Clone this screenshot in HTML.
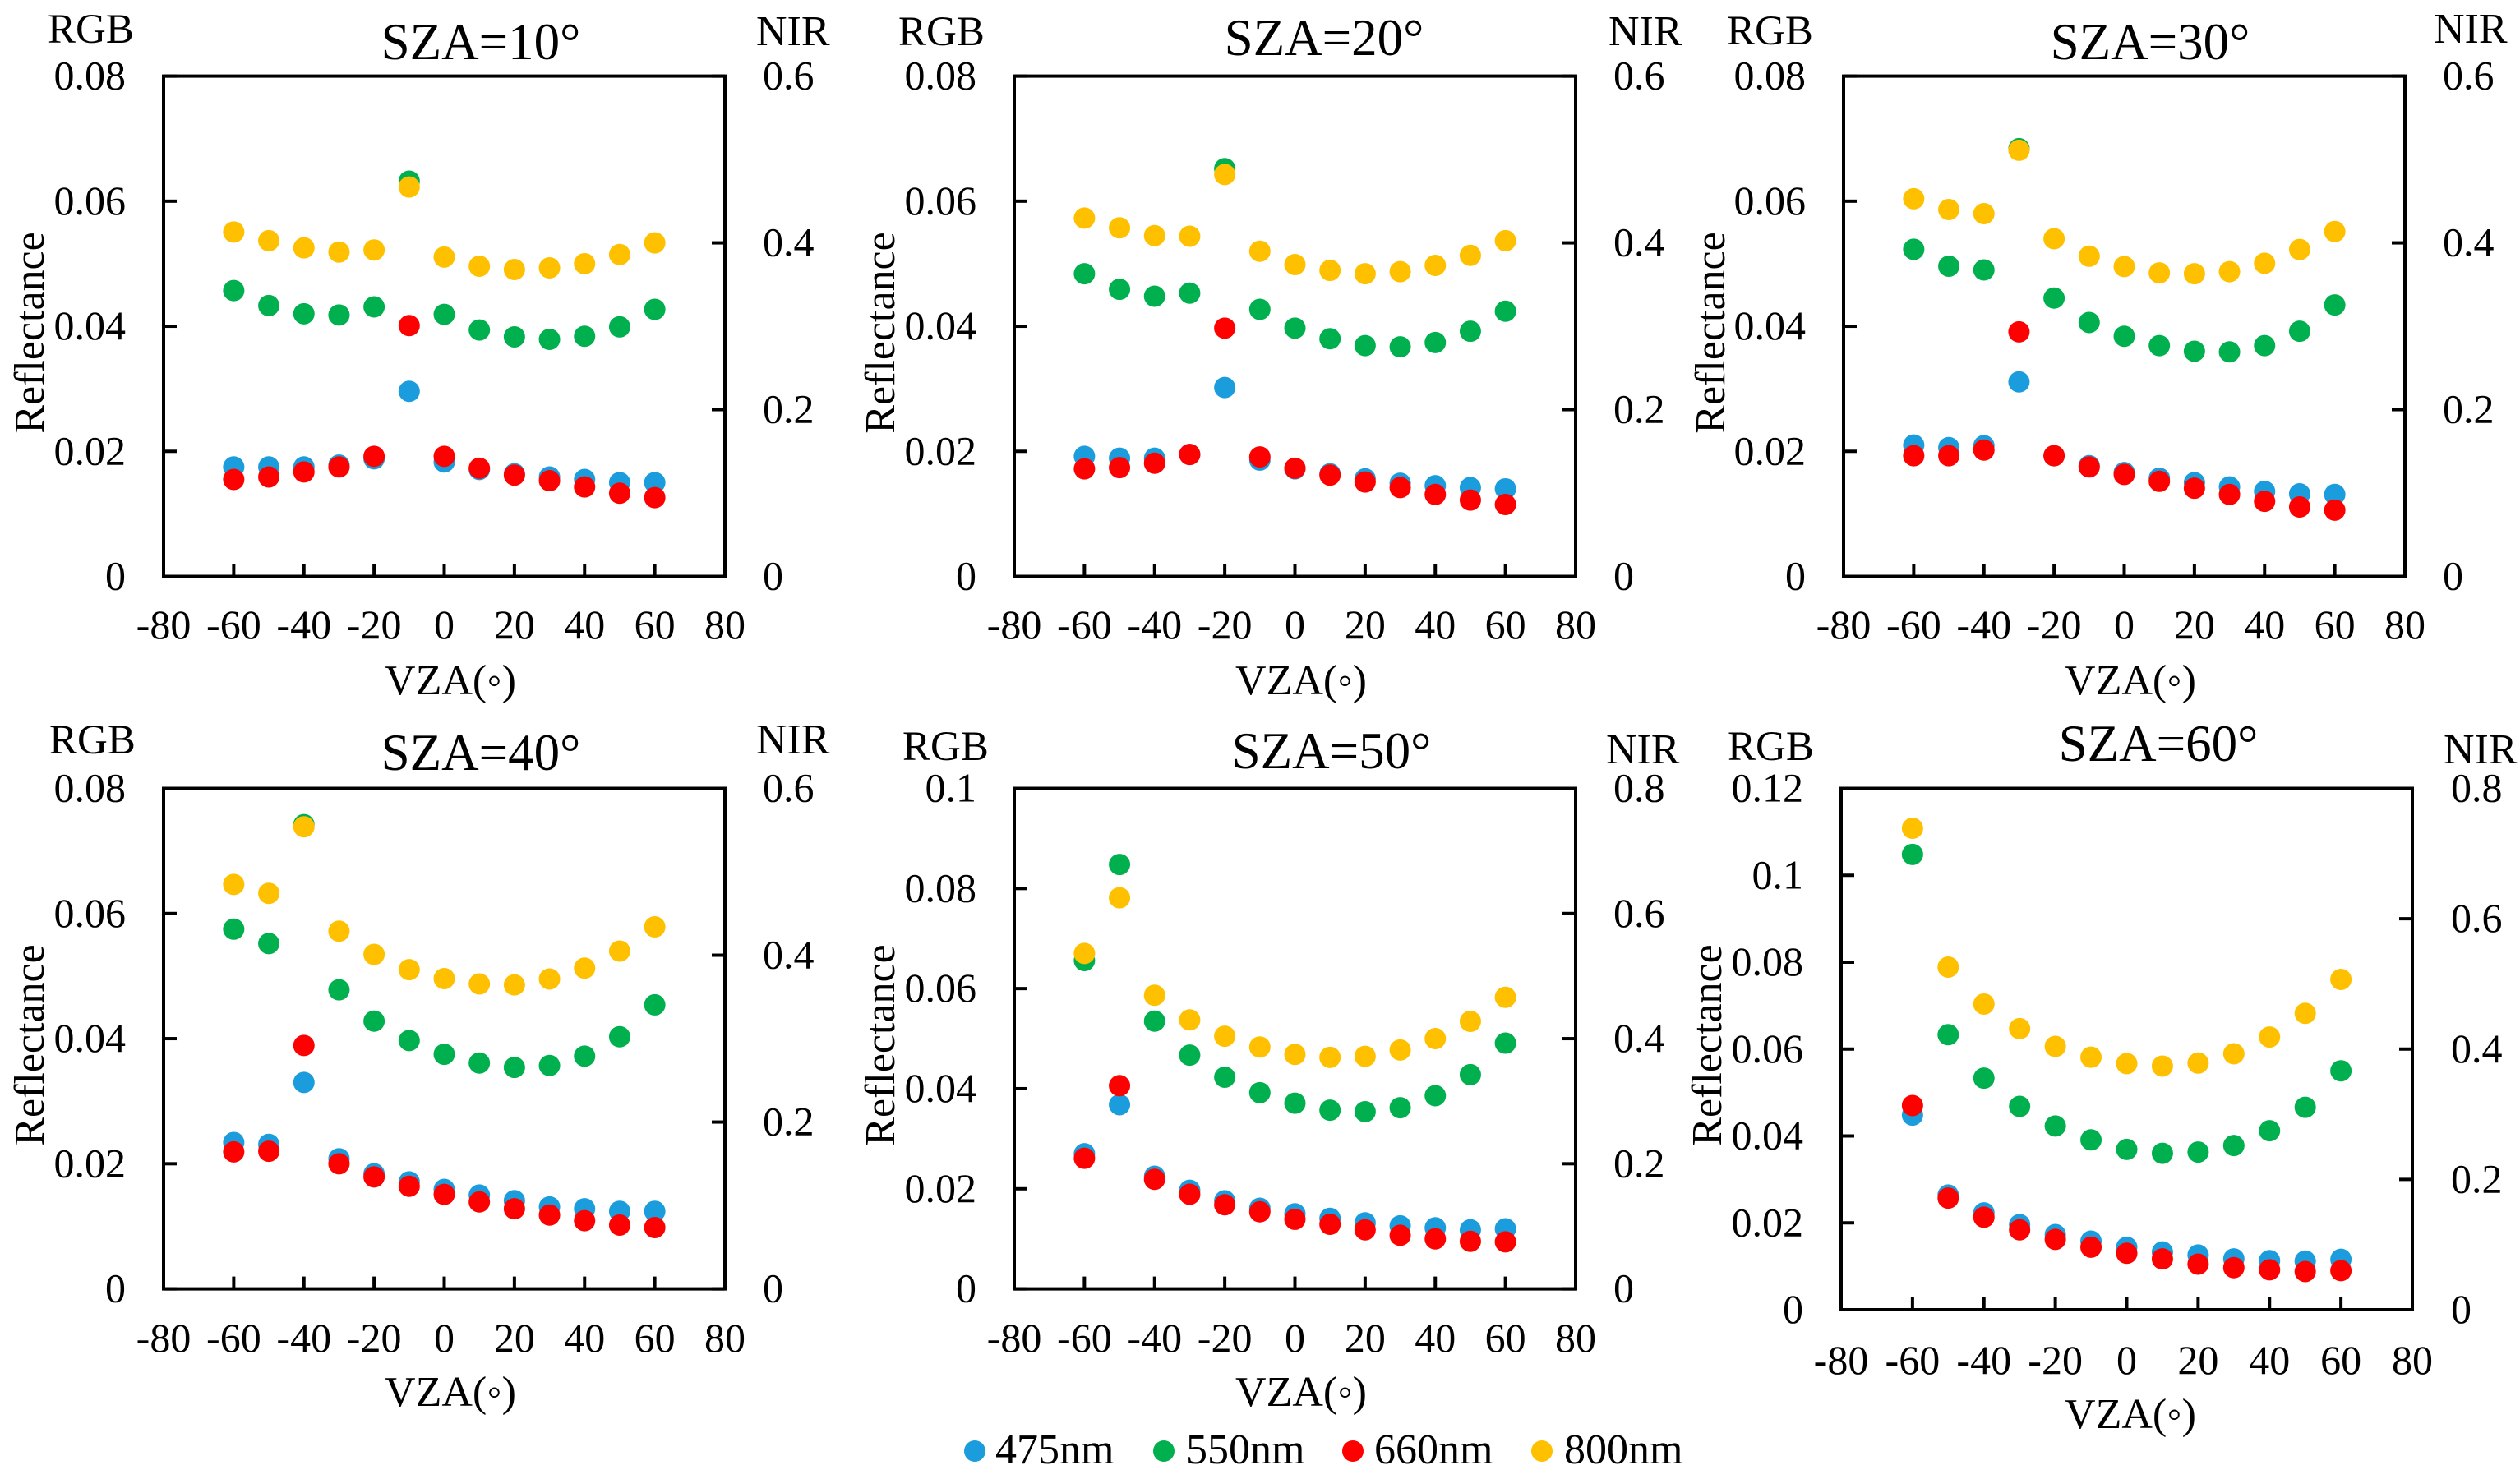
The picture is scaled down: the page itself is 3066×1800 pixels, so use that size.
<!DOCTYPE html>
<html lang="en">
<head>
<meta charset="utf-8">
<title>Reflectance vs VZA for six SZA values</title>
<style>
html,body{margin:0;padding:0;background:#fff;width:3066px;height:1800px;overflow:hidden}
svg{display:block}
text{font-family:"Liberation Serif","DejaVu Serif",serif;fill:#000}
</style>
</head>
<body>
<svg id="figure" xmlns="http://www.w3.org/2000/svg" width="3066" height="1800" viewBox="0 0 3066 1800"></svg>
<script>
/* ---------- shared categories and ticks ---------- */
const vza = [-60,-50,-40,-30,-20,-10,0,10,20,30,40,50,60];
const xTickValues = [-80,-60,-40,-20,0,20,40,60,80];
const rgbTicks008 = ["0","0.02","0.04","0.06","0.08"];
const rgbTicks01 = ["0","0.02","0.04","0.06","0.08","0.1"];
const rgbTicks012 = ["0","0.02","0.04","0.06","0.08","0.1","0.12"];
const nirTicks06 = ["0","0.2","0.4","0.6"];
const nirTicks08 = ["0","0.2","0.4","0.6","0.8"];
const bandNames = ["475nm","550nm","660nm","800nm"];
const szaTitles = ["SZA=10°","SZA=20°","SZA=30°","SZA=40°","SZA=50°","SZA=60°"];

/* ---------- series values ---------- */
const sza10Blue = [.0175,.0175,.0175,.0178,.0188,.0296,.0183,.0171,.0164,.0159,.0155,.0150,.0150];
const sza10Green = [.0457,.0433,.0420,.0418,.0431,.0632,.0419,.0394,.0383,.0379,.0384,.0399,.0427];
const sza10Red = [.0155,.0159,.0167,.0175,.0192,.0401,.0192,.0173,.0162,.0153,.0143,.0133,.0126];
const sza10Nir = [.413,.4026,.394,.389,.3915,.467,.383,.372,.368,.370,.375,.386,.400];

const sza20Blue = [.0192,.0189,.0189,.0195,.0302,.0186,.0172,.0164,.0156,.0149,.0145,.0142,.0140];
const sza20Green = [.0484,.0459,.0448,.0453,.0652,.0427,.0397,.0380,.0369,.0367,.0374,.0392,.0424];
const sza20Red = [.0172,.0174,.0181,.0195,.0397,.0191,.0173,.0162,.0151,.0142,.0131,.0122,.0115];
const sza20Nir = [.4297,.418,.4087,.408,.482,.390,.374,.367,.363,.3655,.373,.385,.4026];

const sza30Blue = [.0210,.0206,.0209,.0311,.0193,.0177,.0166,.0157,.0150,.0143,.0136,.0132,.0131];
const sza30Green = [.0523,.0496,.0490,.0684,.0445,.0406,.0384,.0369,.0360,.0359,.0369,.0392,.0434];
const sza30Red = [.0193,.0193,.0202,.0391,.0193,.0175,.0163,.0152,.0141,.0131,.0120,.0111,.0106];
const sza30Nir = [.4529,.440,.435,.511,.405,.384,.3716,.364,.363,.3655,.3755,.392,.4136];

const sza40Blue = [.0234,.0231,.0330,.0208,.0184,.0171,.0159,.0150,.0141,.0131,.0128,.0124,.0124];
const sza40Green = [.0575,.0552,.0742,.0478,.0428,.0397,.0375,.0361,.0354,.0357,.0372,.0403,.0454];
const sza40Red = [.0219,.0220,.0389,.0200,.0179,.0164,.0151,.0139,.0128,.0118,.0109,.0102,.0098];
const sza40Nir = [.4849,.4742,.554,.4288,.401,.3827,.372,.3656,.3644,.3715,.3845,.405,.434];

const sza50Blue = [.0270,.0368,.0225,.0197,.0176,.0161,.0150,.0141,.0132,.0126,.0122,.0118,.0120];
const sza50Green = [.0656,.0848,.0535,.0467,.0423,.0392,.0371,.0357,.0354,.0362,.0386,.0428,.0491];
const sza50Red = [.0261,.0406,.0219,.0189,.0168,.0154,.0139,.0129,.0118,.0107,.0100,.0095,.0094];
const sza50Nir = [.5362,.6252,.4693,.4299,.4039,.3866,.3748,.3701,.3717,.3819,.4,.4276,.4661];

const sza60Blue = [.0448,.0264,.0223,.0196,.0173,.0158,.0144,.0133,.0126,.0117,.0113,.0112,.0116];
const sza60Green = [.1048,.0633,.0533,.0468,.0423,.0391,.0369,.0360,.0363,.0378,.0412,.0466,.0550];
const sza60Red = [.0470,.0257,.0213,.0184,.0162,.0144,.0130,.0117,.0105,.0097,.0092,.0088,.0090];
const sza60Nir = [.7388,.5258,.4691,.4313,.4041,.3875,.3777,.3739,.3785,.3928,.4185,.4548,.5069];

/* ---------- styling ---------- */
const bandColors = ["#1b9ddd","#00b04f","#ff0000","#ffc000"];
const DOT_R = 13;
const TICK_FS = 50;

/* ---------- build ---------- */
const SVG_NS = "http://www.w3.org/2000/svg";
const fig = document.getElementById("figure");

function make(tag, attrs, parent, content) {
  const el = document.createElementNS(SVG_NS, tag);
  for (const k in attrs) el.setAttribute(k, attrs[k]);
  if (content !== undefined) el.textContent = content;
  parent.appendChild(el);
  return el;
}

const panels = [
  {title:0,series:[sza10Blue,sza10Green,sza10Red,sza10Nir],rgb:rgbTicks008,nir:nirTicks06,box:[199,882,92.6,701.5],
   lab:{rgbX:58,rgbY:52,nirX:920,nirY:55,titleX:585,titleY:72,yTickR:153,nirTickL:928,xTickY:777,xLabX:548,xLabY:845,yLabX:53,yLabY:405}},
  {title:1,series:[sza20Blue,sza20Green,sza20Red,sza20Nir],rgb:rgbTicks008,nir:nirTicks06,box:[1234,1917,92.6,701.5],
   lab:{rgbX:1093,rgbY:55,nirX:1957,nirY:55,titleX:1611,titleY:67,yTickR:1188,nirTickL:1963,xTickY:777,xLabX:1583,xLabY:845,yLabX:1088,yLabY:405}},
  {title:2,series:[sza30Blue,sza30Green,sza30Red,sza30Nir],rgb:rgbTicks008,nir:nirTicks06,box:[2243,2926,92.6,701.5],
   lab:{rgbX:2101,rgbY:54,nirX:2961,nirY:52,titleX:2616,titleY:72,yTickR:2197,nirTickL:2972,xTickY:777,xLabX:2592,xLabY:845,yLabX:2098,yLabY:405}},
  {title:3,series:[sza40Blue,sza40Green,sza40Red,sza40Nir],rgb:rgbTicks008,nir:nirTicks06,box:[199,882,959.5,1568.6],
   lab:{rgbX:60,rgbY:917,nirX:920,nirY:917,titleX:585,titleY:937,yTickR:153,nirTickL:928,xTickY:1645,xLabX:548,xLabY:1711,yLabX:53,yLabY:1272}},
  {title:4,series:[sza50Blue,sza50Green,sza50Red,sza50Nir],rgb:rgbTicks01,nir:nirTicks08,box:[1234,1917,959.5,1568.6],
   lab:{rgbX:1098,rgbY:925,nirX:1954,nirY:929,titleX:1620,titleY:935,yTickR:1188,nirTickL:1963,xTickY:1645,xLabX:1583,xLabY:1711,yLabX:1088,yLabY:1272}},
  {title:5,series:[sza60Blue,sza60Green,sza60Red,sza60Nir],rgb:rgbTicks012,nir:nirTicks08,box:[2240,2935,959.5,1594],
   lab:{rgbX:2102,rgbY:925,nirX:2973,nirY:929,titleX:2626,titleY:926,yTickR:2194,nirTickL:2982,xTickY:1672,xLabX:2592,xLabY:1738,yLabX:2094,yLabY:1272}}
];

panels.forEach(function (p) {
  const [L, R, T, B] = p.box;
  const L2 = p.lab;
  const rgbMax = parseFloat(p.rgb[p.rgb.length - 1]);
  const nirMax = parseFloat(p.nir[p.nir.length - 1]);
  const xScale = v => L + (v + 80) / 160 * (R - L);
  const yRgb = v => B - v / rgbMax * (B - T);
  const yNir = v => B - v / nirMax * (B - T);

  const g = make("g", {}, fig);
  
  

  const frame = make("rect", {x:L,y:T,width:R-L,height:B-T,fill:"none",stroke:"#000","stroke-width":4}, g);
  
  

  xTickValues.forEach(function (v) {
    const x = xScale(v);
    if (v !== -80 && v !== 80) {
      const t = make("line", {x1:x,x2:x,y1:B,y2:B-15,stroke:"#000","stroke-width":4}, g);
      
      
    }
    const lab = make("text", {x:x,y:L2.xTickY,"font-size":TICK_FS,"text-anchor":"middle"}, g, String(v));
    
    
  });

  p.rgb.forEach(function (s) {
    const y = yRgb(parseFloat(s));
    const t = make("line", {x1:L,x2:L+16,y1:y,y2:y,stroke:"#000","stroke-width":4}, g);
    
    
    const lab = make("text", {x:L2.yTickR,y:y+16,"font-size":TICK_FS,"text-anchor":"end"}, g, s);
    
    
  });

  p.nir.forEach(function (s) {
    const y = yNir(parseFloat(s));
    const t = make("line", {x1:R,x2:R-16,y1:y,y2:y,stroke:"#000","stroke-width":4}, g);
    
    
    const lab = make("text", {x:L2.nirTickL,y:y+16,"font-size":TICK_FS}, g, s);
    
    
  });

  p.series.forEach(function (values, si) {
    const yFn = si === 3 ? yNir : yRgb;
    values.forEach(function (v, i) {
      const c = make("circle", {cx:xScale(vza[i]),cy:yFn(v),r:DOT_R,fill:bandColors[si]}, g);
      
      
    });
  });

  const title = make("text", {x:L2.titleX,y:L2.titleY,"font-size":63,"text-anchor":"middle"}, g, szaTitles[p.title]);
  
  

  const rgbLab = make("text", {x:L2.rgbX,y:L2.rgbY,"font-size":51}, g, "RGB");
  
  

  const nirLab = make("text", {x:L2.nirX,y:L2.nirY,"font-size":52}, g, "NIR");
  
  

  const xLab = make("text", {x:L2.xLabX,y:L2.xLabY,"font-size":52,"text-anchor":"middle"}, g, "VZA(◦)");
  
  

  const yLab = make("text", {x:L2.yLabX,y:L2.yLabY,"font-size":52,"text-anchor":"middle",
    transform:"rotate(-90 " + L2.yLabX + " " + L2.yLabY + ")"}, g, "Reflectance");
  
  
});

/* ---------- legend ---------- */
const legend = make("g", {}, fig);


const legendDotX = [1186,1416,1646,1876];
const legendTextX = [1211,1443,1672,1903];
bandNames.forEach(function (name, i) {
  const d = make("circle", {cx:legendDotX[i],cy:1766,r:DOT_R,fill:bandColors[i]}, legend);
  
  
  const t = make("text", {x:legendTextX[i],y:1781,"font-size":52}, legend, name);
  
  
});
</script>
</body>
</html>
